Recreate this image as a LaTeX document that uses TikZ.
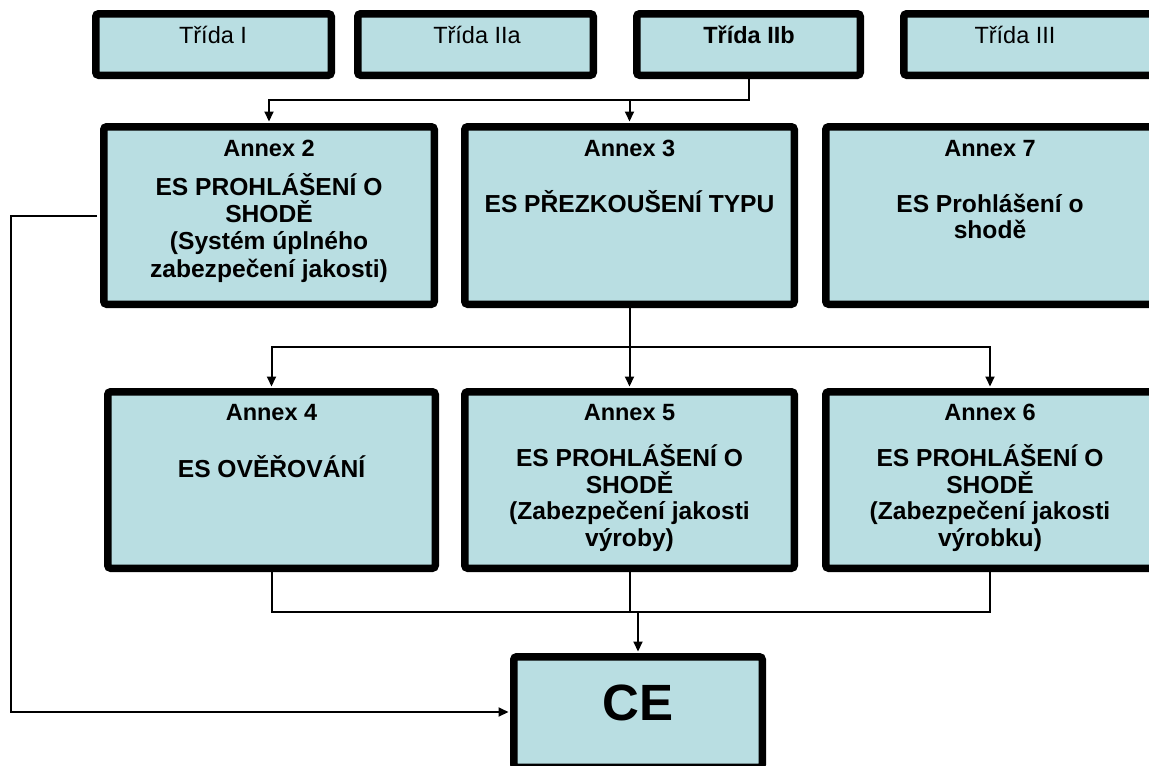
\documentclass[tikz,border=0pt]{standalone}
\usepackage{fontspec}
\setmainfont{Liberation Sans}
\usetikzlibrary{arrows.meta}
\definecolor{boxfill}{RGB}{185,222,226}
% frame given by its outer edges: name, left, top, right, bottom
\newcommand{\panel}[5]{%
  \node[box, minimum width={#4-#2-7.5}, minimum height={#5-#3-7.5}]
    (#1) at ({(#2+#4)/2},{(#3+#5)/2}) {};}
\begin{document}
\begin{tikzpicture}[x=1pt, y=-1pt,
  box/.style={draw=black, line width=7.5pt, fill=boxfill, rounded corners=3pt, inner sep=0pt},
  conn/.style={line width=2pt},
  arr/.style={conn, -{Triangle[length=10pt,width=9pt]}, shorten >=1.5pt},
  % multi-line texts are placed by the baseline of their last line
  lbl/.style={anchor=base, align=center, inner sep=0pt, font=\fontsize{23.5}{26.5}\selectfont},
  hdr/.style={lbl, font=\bfseries\fontsize{23.5}{26.5}\selectfont},
  body/.style={lbl, font=\bfseries\fontsize{24.6}{26.5}\selectfont},
]
\path[use as bounding box] (0,0) rectangle (1149,766);
\clip (0,0) rectangle (1149,766);

% device classes
\panel{t1}{92}{10}{335}{79}
\panel{t2a}{354}{10}{597}{79}
\panel{t2b}{633}{10}{864}{79}
\panel{t3}{900}{10}{1200}{79}
\node[lbl] (t1txt)  at (213,43)  {Třída I};
\node[lbl] (t2atxt) at (477,43)  {Třída IIa};
\node[hdr] (t2btxt) at (749,43)  {Třída IIb};
\node[lbl] (t3txt)  at (1015,43) {Třída III};

% first choice of procedure
\panel{a2}{100}{123}{438}{308}
\panel{a3}{461}{123}{798}{308}
\panel{a7}{822}{123}{1158}{308}
\node[hdr] (a2h) at (269,156) {Annex 2};
\node[body, font=\bfseries\fontsize{24.6}{27.3}\selectfont] (a2b) at (269,277)
  {ES PROHLÁŠENÍ O\\SHODĚ\\(Systém úplného\\zabezpečení jakosti)};
\node[hdr] (a3h) at (629.5,156) {Annex 3};
\node[body] (a3b) at (629.5,212) {ES PŘEZKOUŠENÍ TYPU};
\node[hdr] (a7h) at (990,156) {Annex 7};
\node[body] (a7b) at (990,238.5) {ES Prohlášení o\\shodě};

% procedures following the type examination
\panel{a4}{104}{388}{439}{572}
\panel{a5}{461}{388}{798}{572}
\panel{a6}{822}{388}{1158}{572}
\node[hdr] (a4h) at (271.5,420) {Annex 4};
\node[body] (a4b) at (271.5,477) {ES OVĚŘOVÁNÍ};
\node[hdr] (a5h) at (629.5,420) {Annex 5};
\node[body] (a5b) at (629.5,546) {ES PROHLÁŠENÍ O\\SHODĚ\\(Zabezpečení jakosti\\výroby)};
\node[hdr] (a6h) at (990,420) {Annex 6};
\node[body] (a6b) at (990,546) {ES PROHLÁŠENÍ O\\SHODĚ\\(Zabezpečení jakosti\\výrobku)};

% conformity marking
\panel{ce}{510}{653}{766}{771}
\node[anchor=base, inner sep=0pt, font=\bfseries\fontsize{51}{51}\selectfont] (cetxt) at (638,720) {CE};

% bus levels and the return path
\coordinate (bus1) at (0,100);
\coordinate (bus2) at (0,347);
\coordinate (bus3) at (0,612);
\coordinate (lx) at (11,712);

% class IIb to annexes 2 and 3
\draw[arr] (t2b.south) |- (bus1 -| a2.north) -- (a2.north);
\draw[arr] (bus1 -| a3.north) -- (a3.north);

% annex 3 to annexes 4, 5, 6
\draw[arr] (a3.south) |- (bus2 -| a4.north) -- (a4.north);
\draw[arr] (a3.south) |- (bus2 -| a6.north) -- (a6.north);
\draw[arr] (bus2 -| a5.north) -- (a5.north);

% annexes 4, 5, 6 to CE
\draw[conn] (a4.south) |- (bus3 -| a6.south) -- (a6.south);
\draw[conn] (a5.south) -- (bus3 -| a5.south);
\draw[arr] (bus3 -| ce.north) -- (ce.north);

% annex 2 directly to CE
\draw[arr] ([xshift=-3pt]a2.west) -| (lx) -- (lx -| ce.west);
\end{tikzpicture}
\end{document}
